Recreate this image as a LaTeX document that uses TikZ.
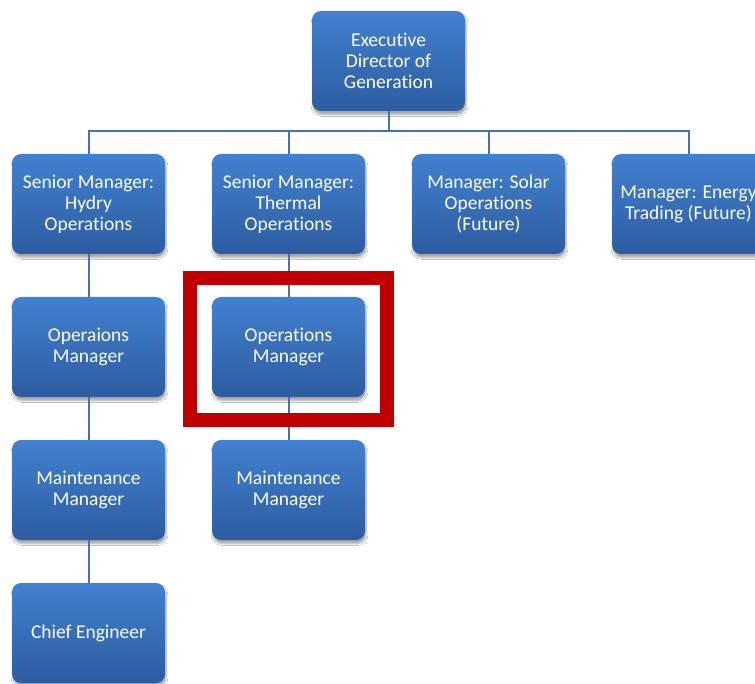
\documentclass[tikz,border=0pt]{standalone}
\usepackage{fontspec}
\setmainfont{Carlito}[Ligatures=NoCommon]
\usetikzlibrary{shadows.blur}

\definecolor{boxtop}{RGB}{66,129,208}
\definecolor{boxbot}{RGB}{45,92,160}
\definecolor{linkblue}{RGB}{72,114,170}
\definecolor{markred}{RGB}{192,0,0}

\begin{document}
\begin{tikzpicture}[x=1pt,y=-1pt,
  post/.style={draw=none, rectangle, rounded corners=9pt,
    minimum width=153pt, minimum height=100pt, inner sep=0pt,
    top color=boxtop, bottom color=boxbot, text=white,
    align=flush center, text width=150pt,
    font=\fontsize{19.5}{21}\selectfont,
    blur shadow={shadow xshift=1pt, shadow yshift=-3.5pt,
      shadow blur steps=6, shadow opacity=35}},
  link/.style={draw=linkblue, line width=2pt}]
\clip (0,0) rectangle (755,684);
\fill[white] (0,0) rectangle (755,684);

% top of the tree
\node[post] (exec) at (388.5,61){Executive\\Director of\\Generation};
\coordinate (bus) at (388.5,131);

% first level
\node[post] (hydro) at (88.5,204){Senior Manager:\\Hydry\\Operations};
\node[post] (thermal) at (288.5,204){Senior Manager:\\Thermal\\Operations};
\node[post] (solar) at (488.5,204){Manager: Solar\\Operations\\(Future)};
\node[post] (trading) at (688.5,204){Manager: Energy\\Trading (Future)};

% hydro column
\node[post] (hydroops) at (88.5,347){Operaions\\Manager};
\node[post] (hydromnt) at (88.5,490){Maintenance\\Manager};
\node[post] (chief) at (88.5,633){Chief Engineer};

% thermal column
\node[post] (thermops) at (288.5,347){Operations\\Manager};
\node[post] (thermmnt) at (288.5,490){Maintenance\\Manager};

\begin{scope}[on background layer/.try]
\draw[link] (exec.south) -- (bus);
\draw[link] (hydro.north) -- (hydro.north |- bus) -- (trading.north |- bus) -- (trading.north);
\draw[link] (thermal.north) -- (thermal.north |- bus);
\draw[link] (solar.north) -- (solar.north |- bus);
\draw[link] (hydro) -- (hydroops);
\draw[link] (hydroops) -- (hydromnt);
\draw[link] (hydromnt) -- (chief);
\draw[link] (thermal) -- (thermops);
\draw[link] (thermops) -- (thermmnt);
\end{scope}

% highlight frame
\draw[markred, line width=14pt] (thermops.center) ++(-98.5,-69) rectangle ++(197,142);
\end{tikzpicture}
\end{document}
